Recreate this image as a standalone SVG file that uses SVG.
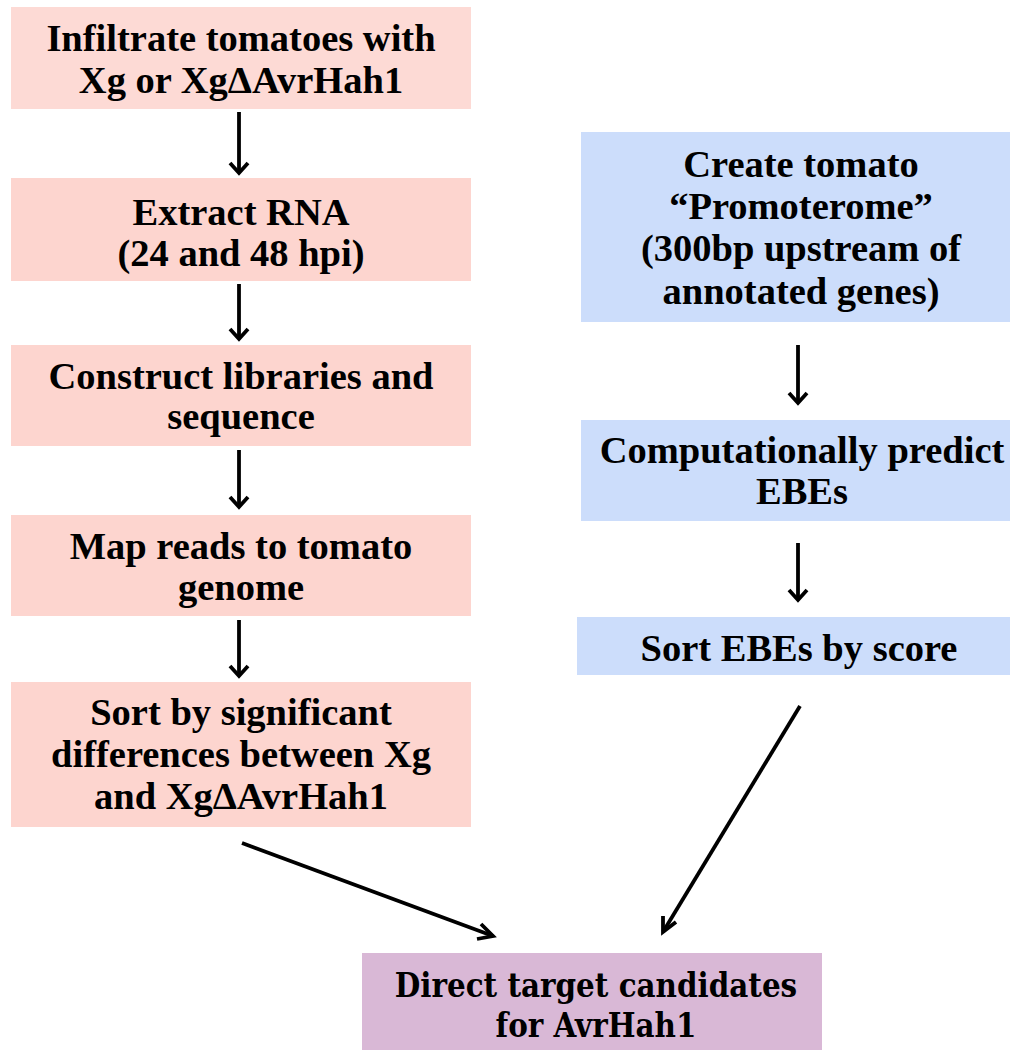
<svg xmlns="http://www.w3.org/2000/svg" width="1010" height="1050" viewBox="0 0 1010 1050">
<style>
.t{font-family:"Liberation Serif","DejaVu Serif",serif;font-weight:bold;font-size:38.5px;fill:#000;text-anchor:middle}
.b{font-family:"DejaVu Serif Condensed","Liberation Serif",serif;font-weight:bold;font-size:32.7px;fill:#000;text-anchor:middle}
.pk{fill:#FDD5CF}
.bl{fill:#CCDDFB}
.pu{fill:#D9B8D6}
.c line{stroke:#000;stroke-width:3.8}
.c path{fill:none;stroke:#000;stroke-width:3.8}
</style>
<rect width="1010" height="1050" fill="#fff"/>
<g id="n1"><rect class="pk" x="11" y="7" width="460" height="102" style="fill:#FDDAD5"/><text class="t" x="241" y="51">Infiltrate tomatoes with</text><text class="t" x="241" y="93">Xg or XgΔAvrHah1</text></g>
<g id="n2"><rect class="pk" x="11" y="178" width="460" height="103"/><text class="t" x="241" y="225">Extract RNA</text><text class="t" x="241" y="266">(24 and 48 hpi)</text></g>
<g id="n3"><rect class="pk" x="11" y="345" width="460" height="101"/><text class="t" x="241" y="389">Construct libraries and</text><text class="t" x="241" y="429">sequence</text></g>
<g id="n4"><rect class="pk" x="11" y="515" width="460" height="101"/><text class="t" x="241" y="559">Map reads to tomato</text><text class="t" x="241" y="600">genome</text></g>
<g id="n5"><rect class="pk" x="11" y="682" width="460" height="145"/><text class="t" x="241" y="725">Sort by significant</text><text class="t" x="241" y="767">differences between Xg</text><text class="t" x="241" y="809">and XgΔAvrHah1</text></g>
<g id="r1"><rect class="bl" x="581" y="132" width="429" height="190"/><text class="t" x="801" y="177">Create tomato</text><text class="t" x="801" y="219">“Promoterome”</text><text class="t" x="801" y="261">(300bp upstream of</text><text class="t" x="801" y="304">annotated genes)</text></g>
<g id="r2"><rect class="bl" x="581" y="420" width="429" height="101"/><text class="t" x="802" y="463">Computationally predict</text><text class="t" x="802" y="504">EBEs</text></g>
<g id="r3"><rect class="bl" x="577" y="617" width="433" height="58"/><text class="t" x="799" y="661">Sort EBEs by score</text></g>
<g id="out"><rect class="pu" x="362" y="953" width="460" height="97"/><text class="b" x="596" y="997">Direct target candidates</text><text class="b" x="596" y="1037">for AvrHah1</text></g>
<g class="c" id="connectors">
<line x1="239" y1="112" x2="239" y2="173"/><path d="M230,163 L239,173 L248,163"/>
<line x1="239" y1="284" x2="239" y2="339"/><path d="M230,329 L239,339 L248,329"/>
<line x1="239" y1="450" x2="239" y2="507"/><path d="M230,497 L239,507 L248,497"/>
<line x1="239" y1="620" x2="239" y2="676"/><path d="M230,666 L239,676 L248,666"/>
<line x1="798" y1="345" x2="798" y2="403"/><path d="M789,393 L798,403 L807,393"/>
<line x1="798" y1="543" x2="798" y2="600"/><path d="M789,590 L798,600 L807,590"/>
<line x1="242" y1="843" x2="493" y2="936"/><path d="M481,924 L493,936 L477,939"/>
<line x1="800" y1="706" x2="663" y2="932"/><path d="M663,916 L663,932 L676,922"/>
</g>
</svg>
